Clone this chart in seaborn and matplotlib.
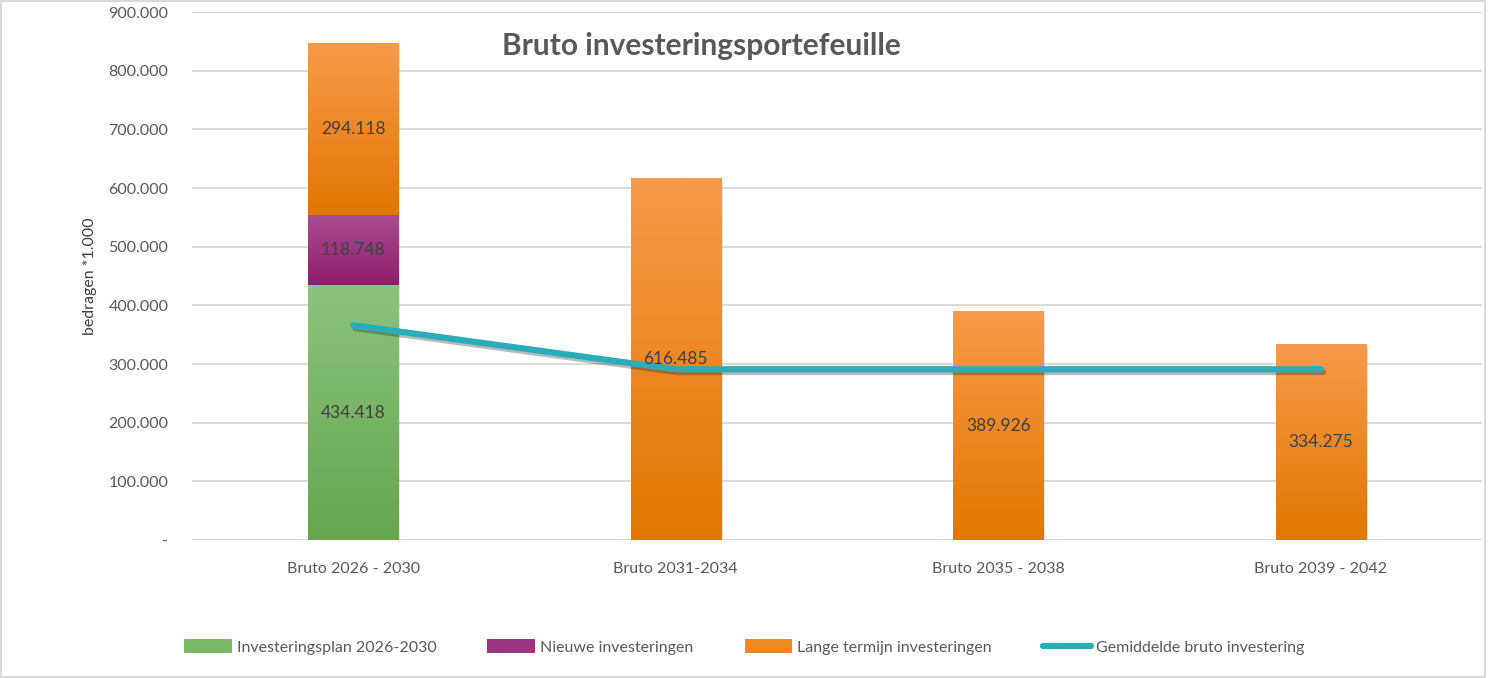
"""
Bruto investeringsportefeuille - stacked bars with average line
"""

import numpy as np
import pandas as pd
import matplotlib
matplotlib.use("Agg")
import matplotlib.pyplot as plt
import matplotlib.patheffects as pe
from matplotlib.colors import LinearSegmentedColormap
from matplotlib.patches import Patch, Rectangle
from matplotlib.lines import Line2D
from matplotlib.ticker import FuncFormatter
import seaborn as sns

# Data (bedragen * 1.000)
periods = ["Bruto 2026 - 2030", "Bruto 2031-2034", "Bruto 2035 - 2038", "Bruto 2039 - 2042"]
investeringsplan = [434418, 0, 0, 0]
nieuwe = [118748, 0, 0, 0]
lange_termijn = [294118, 616485, 389926, 334275]
gemiddelde = [366000, 291000, 291000, 291000]

series_names = ["Investeringsplan 2026-2030", "Nieuwe investeringen",
                "Lange termijn investeringen", "Gemiddelde bruto investering"]

# gradient colours (top, bottom)
GRAD = {
    "green": ("#8bc37c", "#64a74f"),
    "purple": ("#a94d8f", "#8e1d6e"),
    "orange": ("#f79a4a", "#e27700"),
}
LINE_COLOR = "#2aadb9"
TEXT_COLOR = "#595959"
LABEL_COLOR = "#404040"
GRID_COLOR = "#d9d9d9"

sns.set_theme(style="white")
plt.rcParams["font.family"] = ["Lato", "DejaVu Sans"]

df = pd.DataFrame({
    "period": periods,
    "plan": investeringsplan,
    "nieuw": nieuwe,
    "lang": lange_termijn,
    "gem": gemiddelde,
})

fig = plt.figure(figsize=(14.88, 6.78), dpi=100)
ax = fig.add_axes([192 / 1488, 1 - 540 / 678, 1290 / 1488, 528 / 678])

bar_w = 0.28
bottom_nieuw = df["plan"].to_numpy()
bottom_lang = bottom_nieuw + df["nieuw"].to_numpy()

layers = [
    ("plan", None, "green"),
    ("nieuw", bottom_nieuw, "purple"),
    ("lang", bottom_lang, "orange"),
]

for col, bottom, cname in layers:
    n_before = len(ax.patches)
    kw = {} if bottom is None else {"bottom": bottom}
    sns.barplot(data=df, x="period", y=col, color=GRAD[cname][1], width=bar_w,
                ax=ax, zorder=2, **kw)
    cmap = LinearSegmentedColormap.from_list(cname, [GRAD[cname][1], GRAD[cname][0]])
    for patch, val in zip(ax.patches[n_before:], df[col]):
        if val <= 0:
            continue
        x0, y0 = patch.get_x(), patch.get_y()
        w, h = patch.get_width(), patch.get_height()
        patch.set_path_effects([pe.SimplePatchShadow(offset=(1.5, -1.5), alpha=0.15), pe.Normal()])
        grad = np.linspace(0, 1, 256).reshape(-1, 1)
        im = ax.imshow(grad, cmap=cmap, origin="lower", aspect="auto",
                       extent=(x0, x0 + w, y0, y0 + h), zorder=2.5)
        im.set_clip_path(patch)
        lbl = f"{val:,.0f}".replace(",", ".")
        ax.text(x0 + w / 2, y0 + h / 2, lbl, ha="center", va="center",
                fontsize=12.5, color=LABEL_COLOR, zorder=5)

# average line
sns.lineplot(x=np.arange(len(periods)), y=df["gem"], ax=ax, color=LINE_COLOR,
             linewidth=4.5, zorder=4, solid_capstyle="round", solid_joinstyle="round",
             path_effects=[pe.SimpleLineShadow(offset=(1.5, -2), alpha=0.3), pe.Normal()])

ax.set_xlim(-0.5, len(periods) - 0.5)
ax.set_ylim(0, 900000)
ax.set_yticks(np.arange(0, 900001, 100000))
ax.yaxis.set_major_formatter(FuncFormatter(
    lambda v, _: "-" if v == 0 else f"{v:,.0f}".replace(",", ".")))
ax.yaxis.grid(True, color=GRID_COLOR, linewidth=1.4, zorder=0)
ax.set_axisbelow(True)
sns.despine(ax=ax, left=True, bottom=True, top=True, right=True)
ax.tick_params(axis="y", length=0, pad=17, labelsize=11.5, labelcolor=TEXT_COLOR)
ax.tick_params(axis="x", length=0, pad=16, labelsize=11.5, labelcolor=TEXT_COLOR)
ax.set_xlabel("")
ax.set_ylabel("bedragen *1.000", fontsize=11.5, color="#404040", labelpad=8)

ax.text(0.395, 0.935, "Bruto investeringsportefeuille", transform=ax.transAxes,
        ha="center", va="center", fontsize=21.5, fontweight="bold", color=TEXT_COLOR)

handles = [
    Patch(facecolor="#7ab868", edgecolor="none"),
    Patch(facecolor="#9c3580", edgecolor="none"),
    Patch(facecolor="#f08a20", edgecolor="none"),
    Line2D([0], [0], color=LINE_COLOR, linewidth=4.5, solid_capstyle="round"),
]
fig.legend(handles, series_names, loc="center", bbox_to_anchor=(0.5, 1 - 647 / 678),
           ncol=4, frameon=False, fontsize=11.5, labelcolor=TEXT_COLOR,
           handlelength=3.0, handleheight=0.9, handletextpad=0.3, columnspacing=3.2)

fig.patches.append(Rectangle((0.001, 0.002), 0.997, 0.996, transform=fig.transFigure,
                             fill=False, edgecolor=GRID_COLOR, linewidth=1.5))

fig.savefig("out.png", dpi=100)
